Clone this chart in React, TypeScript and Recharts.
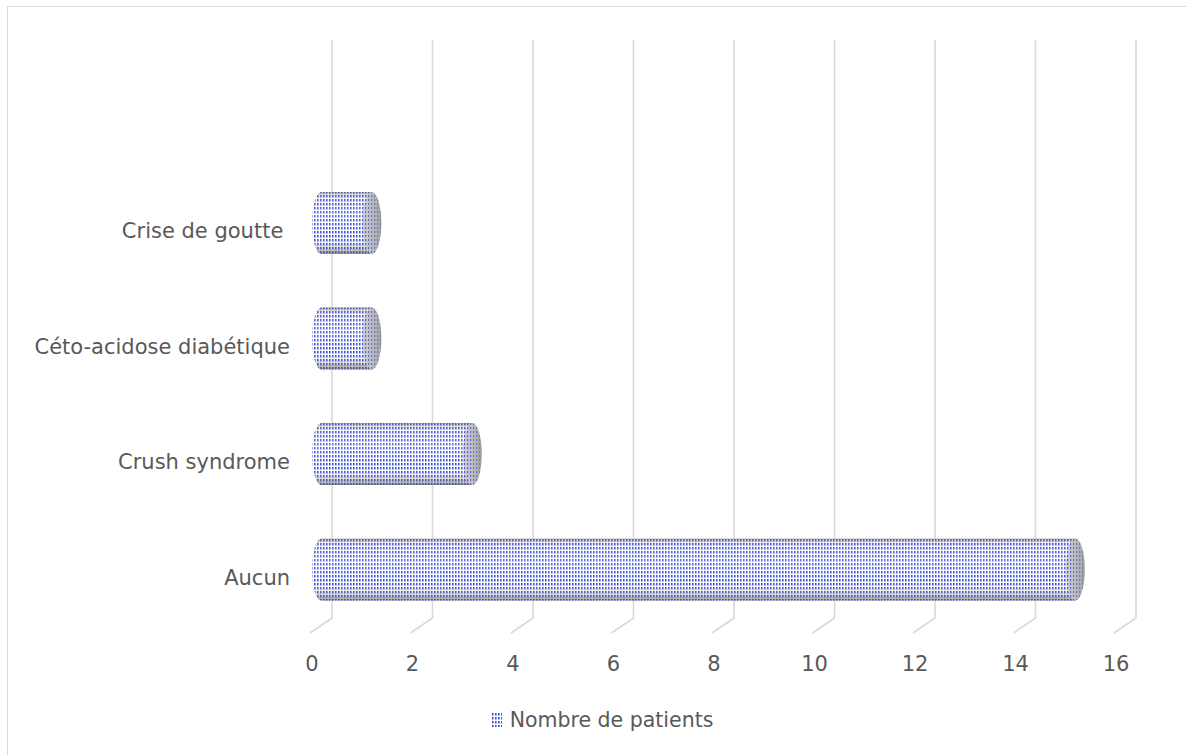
import { BarChart, Bar, XAxis, YAxis, CartesianGrid, Legend } from "recharts";

// complications recorded, listed top to bottom
const complications = [
  "Crise de goutte\u00A0",
  "Céto-acidose diabétique",
  "Crush syndrome",
  "Aucun",
];
const patients = [1, 1, 3, 15];
const xTicks = [0, 2, 4, 6, 8, 10, 12, 14, 16];
const seriesName = "Nombre de patients";

const data = complications.map((name, i) => ({ name, patients: patients[i] }));

const FONT = "'DejaVu Sans', sans-serif";
const TEXT = "#595959";
const GRID = "#d9d9d9";
const CAP_RX = 9.5;
const DEPTH = 20; // back wall offset of the 3D floor

// gridline on the back wall, then a short diagonal across the floor
function GridLine(props: any) {
  const { x1 } = props;
  const bx = x1 + DEPTH;
  return (
    <polyline
      points={`${bx},33 ${bx},611 ${x1 - 2},626`}
      fill="none"
      stroke={GRID}
      strokeWidth={1.6}
    />
  );
}

function Cylinder(props: any) {
  const { x, y, width, height } = props;
  if (!height || height <= 0) return null;
  const ry = height / 2;
  const xl = x + CAP_RX;
  const xr = x + width + CAP_RX;
  const body = `M${xl},${y} L${xr},${y} L${xr},${y + height} L${xl},${y + height} A${CAP_RX},${ry} 0 0 1 ${xl},${y} Z`;
  return (
    <g>
      <path d={body} fill="url(#cylDots)" />
      <path d={body} fill="url(#cylShade)" />
      <ellipse cx={xr} cy={y + ry} rx={CAP_RX} ry={ry} fill="url(#capDots)" />
      <ellipse cx={xr} cy={y + ry} rx={CAP_RX} ry={ry} fill="url(#capShade)" />
    </g>
  );
}

function LegendContent(props: any) {
  const item = props.payload && props.payload[0];
  return (
    <div
      style={{
        height: 30,
        display: "flex",
        alignItems: "center",
        justifyContent: "center",
        paddingLeft: 11,
        fontFamily: FONT,
        fontSize: 20.5,
        color: TEXT,
      }}
    >
      <svg width={10} height={14} style={{ marginRight: 8 }}>
        <rect width={10} height={14} fill="url(#cylDots)" />
      </svg>
      <span>{item ? item.value : seriesName}</span>
    </div>
  );
}

export default function App() {
  return (
    <div
      style={{
        position: "fixed",
        left: 0,
        top: 0,
        width: 1186,
        height: 755,
        overflow: "hidden",
        background: "#ffffff",
      }}
    >
      <div
        style={{
          position: "absolute",
          left: 7,
          top: 6,
          width: 1190,
          height: 760,
          border: `1px solid ${GRID}`,
          boxSizing: "border-box",
        }}
      >
        <BarChart
          width={1178}
          height={748}
          data={data}
          layout="vertical"
          margin={{ top: 158, right: 70, bottom: 20, left: 0 }}
          barSize={62}
        >
          <defs>
            <pattern id="cylDots" width="3" height="4" patternUnits="userSpaceOnUse">
              <rect width="3" height="4" fill="#ffffff" />
              <rect x="0" y="0" width="1.6" height="2.5" fill="#3a50e0" />
            </pattern>
            <pattern id="capDots" width="3" height="4" patternUnits="userSpaceOnUse">
              <rect width="3" height="4" fill="#d4d4da" />
              <rect x="0" y="0" width="1.2" height="2.2" fill="#4a5ad0" />
            </pattern>
            <linearGradient id="cylShade" x1="0" y1="0" x2="0" y2="1">
              <stop offset="0" stopColor="#6f6f6f" stopOpacity={0.5} />
              <stop offset="0.1" stopColor="#bfbfbf" stopOpacity={0.15} />
              <stop offset="0.35" stopColor="#ffffff" stopOpacity={0.2} />
              <stop offset="0.7" stopColor="#ffffff" stopOpacity={0} />
              <stop offset="0.9" stopColor="#808080" stopOpacity={0.3} />
              <stop offset="1" stopColor="#555555" stopOpacity={0.6} />
            </linearGradient>
            <linearGradient id="capShade" x1="0" y1="0" x2="1" y2="0">
              <stop offset="0" stopColor="#a0a0a0" stopOpacity={0.05} />
              <stop offset="0.5" stopColor="#a0a0a0" stopOpacity={0.4} />
              <stop offset="1" stopColor="#8a8a8a" stopOpacity={0.7} />
            </linearGradient>
          </defs>
          <CartesianGrid horizontal={false} vertical={GridLine} />
          <XAxis
            type="number"
            domain={[0, 16]}
            ticks={xTicks}
            interval={0}
            axisLine={false}
            tickLine={false}
            tickSize={0}
            tickMargin={29}
            height={78}
            tick={{ fill: TEXT, fontSize: 21, fontFamily: FONT }}
          />
          <YAxis
            type="category"
            dataKey="name"
            width={304}
            axisLine={false}
            tickLine={false}
            tickSize={0}
            tickMargin={22}
            tick={{ fill: TEXT, fontSize: 21, fontFamily: FONT, dy: 8 }}
          />
          <Bar
            dataKey="patients"
            name={seriesName}
            shape={<Cylinder />}
            isAnimationActive={false}
          />
          <Legend
            verticalAlign="bottom"
            wrapperStyle={{ left: 0, width: 1178 }}
            content={<LegendContent />}
          />
        </BarChart>
      </div>
    </div>
  );
}
